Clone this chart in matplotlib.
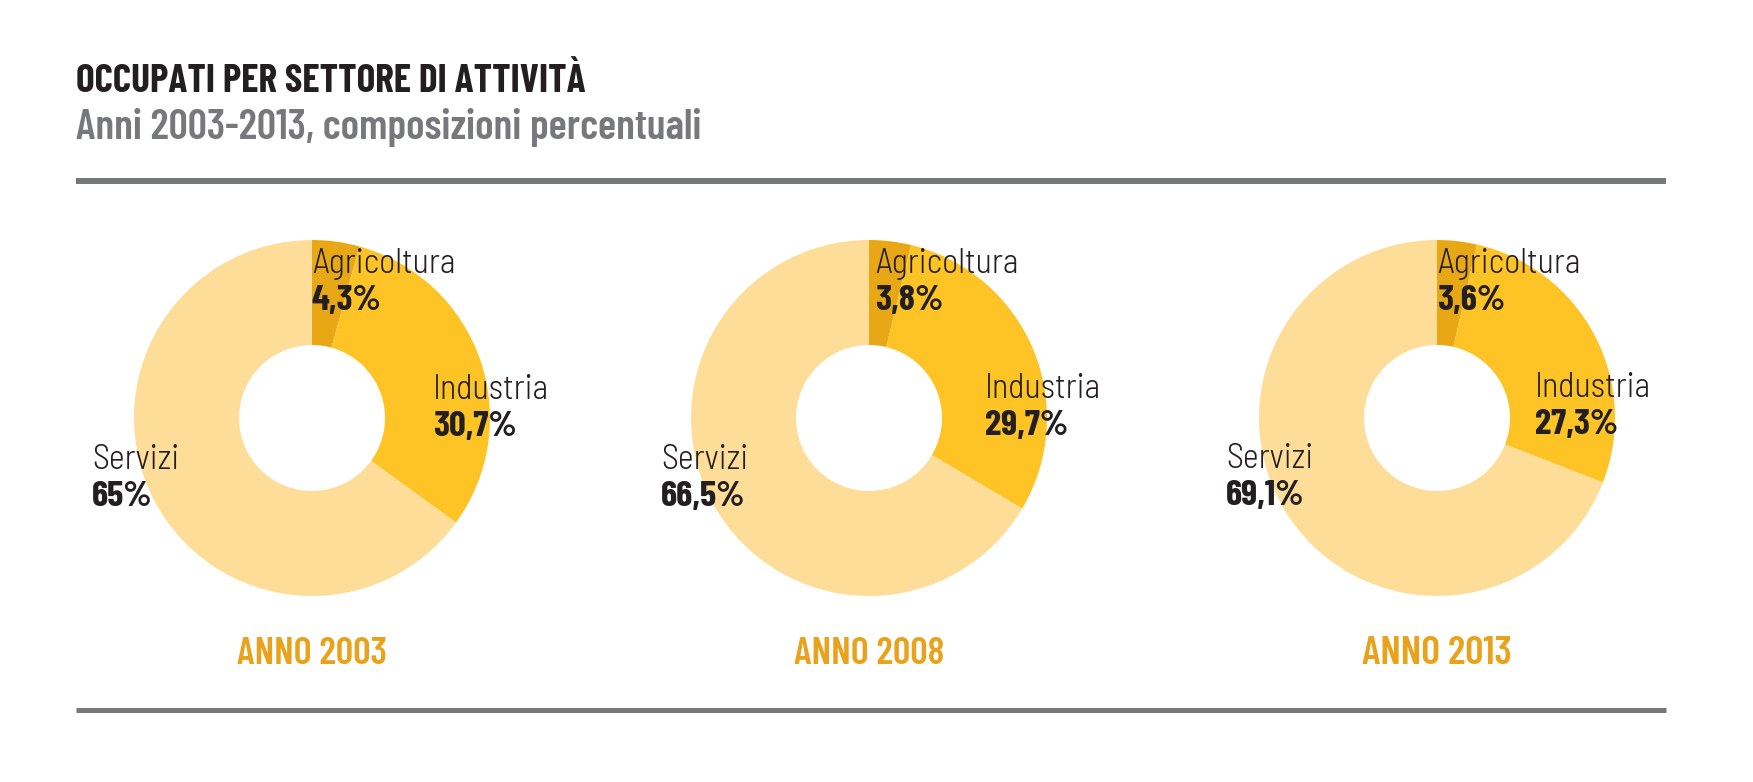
import matplotlib
matplotlib.use("Agg")
import matplotlib.pyplot as plt

# ---------------- data ----------------
title = "OCCUPATI PER SETTORE DI ATTIVITÀ"
subtitle = "Anni 2003-2013, composizioni percentuali"
sectors = ["Agricoltura", "Industria", "Servizi"]
years = ["2003", "2008", "2013"]
values_2003 = [4.3, 30.7, 65.0]
values_2008 = [3.8, 29.7, 66.5]
values_2013 = [3.6, 27.3, 69.1]
value_labels_2003 = ["4,3%", "30,7%", "65%"]
value_labels_2008 = ["3,8%", "29,7%", "66,5%"]
value_labels_2013 = ["3,6%", "27,3%", "69,1%"]

# ---------------- style ----------------
W, H = 1753, 782
DPI = 100
colors = ["#E8A815", "#FEC325", "#FEDD98"]
title_color = "#231F20"
sub_color = "#77787B"
rule_color = "#77787B"
year_color = "#E9A21C"

COND = ["Barlow Condensed", "DejaVu Sans"]
SEMI = ["Barlow Semi Condensed", "Barlow Condensed", "DejaVu Sans"]

fig = plt.figure(figsize=(W / DPI, H / DPI), dpi=DPI)
fig.patch.set_facecolor("white")


def fx(x):
    return x / W


def fy(y):
    return 1 - y / H


renderer = fig.canvas.get_renderer()


def fit_text(x, y, s, target_w, size0, family, **kw):
    t = fig.text(fx(x), fy(y), s, fontsize=size0, family=family, va="baseline", **kw)
    w = t.get_window_extent(renderer).width
    t.set_fontsize(size0 * target_w / w)
    return t


# title block
fit_text(76, 92, title, 508, 31, COND, weight=700, color=title_color)
fit_text(76, 139, subtitle, 625, 28, COND, weight=600, color=sub_color)

# rules
for yy, lw in [(181, 6), (710, 5)]:
    fig.add_artist(plt.Line2D([fx(76), fx(1666)], [fy(yy), fy(yy)],
                              color=rule_color, linewidth=lw * 72 / DPI,
                              solid_capstyle="butt"))

# donuts
centers = [(312, 418), (869, 418), (1437, 418)]
R = 178
hole = 73
all_values = [values_2003, values_2008, values_2013]
all_vlabels = [value_labels_2003, value_labels_2008, value_labels_2013]
# label anchor offsets (dx, baseline y) per donut: Agricoltura, Industria, Servizi
label_pos = [
    [(0, 273), (121, 399), (-220, 469)],
    [(6, 273), (116, 398), (-208, 469)],
    [(0, 273), (98, 397), (-211, 468)],
]
pct_gap = 37

for (cx, cy), vals, vlabs, lpos, yr in zip(centers, all_values, all_vlabels, label_pos, years):
    ax = fig.add_axes([fx(cx - R), (H - (cy + R)) / H, 2 * R / W, 2 * R / H])
    ax.pie(vals, colors=colors, startangle=90, counterclock=False, radius=1,
           wedgeprops=dict(width=1 - hole / R, edgecolor="none", linewidth=0))
    ax.set_xlim(-1, 1)
    ax.set_ylim(-1, 1)
    ax.set_aspect("auto")
    ax.axis("off")
    for name, vl, (dx, by) in zip(sectors, vlabs, lpos):
        fig.text(fx(cx + dx), fy(by), name, fontsize=24.5, family=SEMI, weight=300,
                 color="#231F20", va="baseline", ha="left")
        fig.text(fx(cx + dx), fy(by + pct_gap), vl, fontsize=26.5, family=COND,
                 weight=700, color="#231F20", va="baseline", ha="left")
    fit_text(cx, 664, "ANNO " + yr, 150, 26, COND, weight=600, color=year_color, ha="center")

fig.savefig("out.png", dpi=DPI, facecolor="white")
